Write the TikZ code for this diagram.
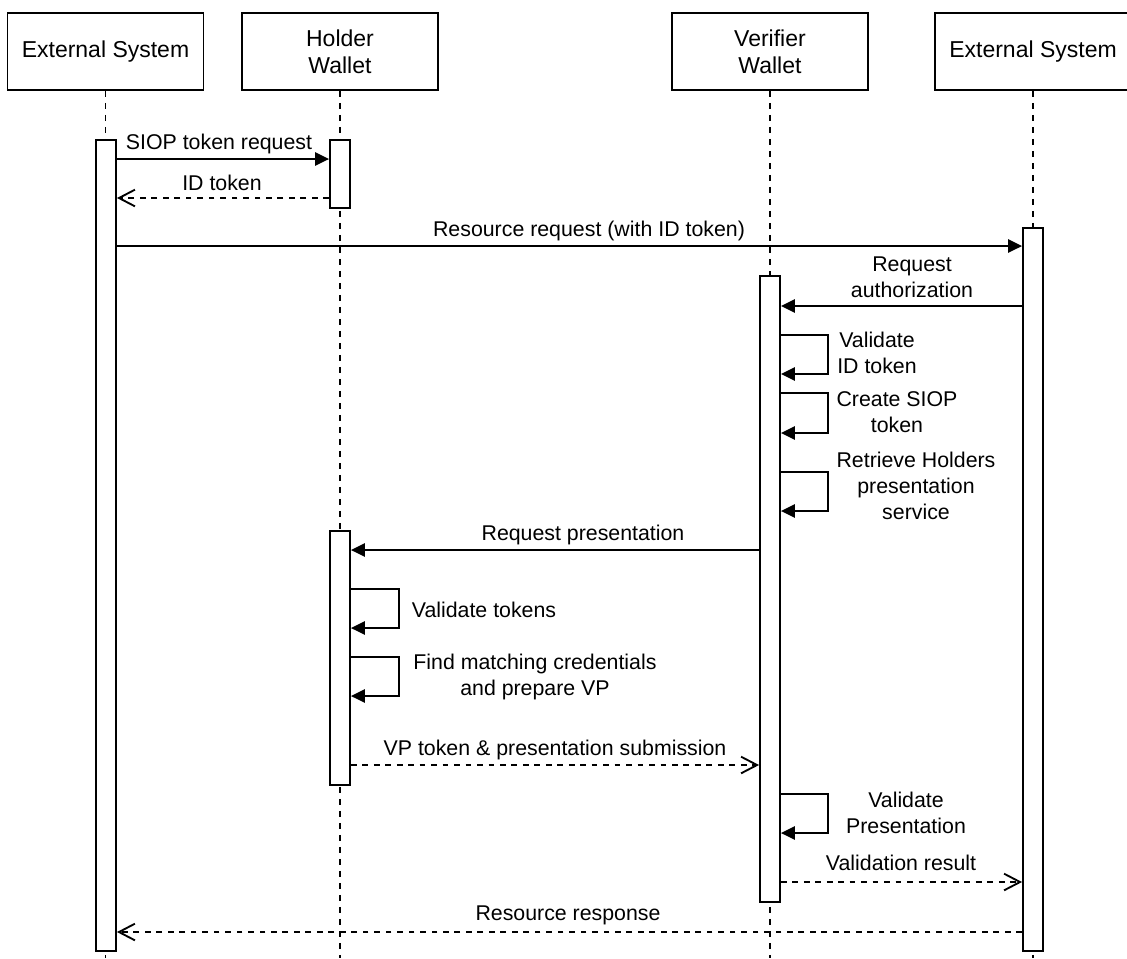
\documentclass[tikz,border=0pt]{standalone}
\usepackage{fontspec}
\setmainfont{Liberation Sans}
\usetikzlibrary{arrows.meta,fit}
\begin{document}
\begin{tikzpicture}[x=0.75pt,y=-0.75pt,
  line width=1.4pt,
  head/.style={draw, fill=white, minimum width=147pt, minimum height=57.75pt,
    inner sep=0pt, align=center, font=\fontsize{17.25}{20}\selectfont},
  life/.style={dash pattern=on 4.5pt off 4.5pt},
  bar/.style={draw, fill=white, inner sep=0pt},
  sync/.style={-{Triangle[length=10.5pt,width=10pt]}},
  reply/.style={dash pattern=on 4.3pt off 4.3pt,
    -{Straight Barb[length=12pt,width=12.5pt]}},
  lbl/.style={font=\fontsize{16}{19.2}\selectfont, align=center, inner sep=0pt, anchor=base}
]
\clip (0,0) rectangle (1127,958);

% participants
\node[head] (es1) at (105.5,51.5) {External System};
\node[head] (hw)  at (340,51.5)   {Holder\\Wallet};
\node[head] (vw)  at (770,51.5)   {Verifier\\Wallet};
\node[head] (es2) at (1033,51.5)  {External System};

% lifelines
\coordinate (bottom) at (0,958);
\draw[life] (es1.south) -- (es1.south |- bottom);
\draw[life] (hw.south)  -- (hw.south |- bottom);
\draw[life] (vw.south)  -- (vw.south |- bottom);
\draw[life] (es2.south) -- (es2.south |- bottom);

% activation bars
\node[bar, fit={(96,140) (116,951)}]   (es1bar) {};
\node[bar, fit={(330,140) (350,208)}]  (hbarA) {};
\node[bar, fit={(1023,228) (1043,951)}] (es2bar) {};
\node[bar, fit={(760,276) (780,902)}]  (vbar) {};
\node[bar, fit={(330,531) (350,785)}]  (hbarB) {};

% SIOP exchange
\draw[sync]  (es1bar.east |- 0,159) -- (hbarA.west |- 0,159);
\node[lbl] (t1) at (219,149) {SIOP token request};
\draw[reply] (hbarA.west |- 0,198) -- (es1bar.east |- 0,198);
\node[lbl] (t2) at (222,190) {ID token};

\draw[sync]  (es1bar.east |- 0,246) -- (es2bar.west |- 0,246);
\node[lbl] (t3) at (589,236) {Resource request (with ID token)};

\draw[sync]  (es2bar.west |- 0,306) -- (vbar.east |- 0,306);
\node[lbl] (t4) at (912,297) {Request\\authorization};

% verifier self calls
\draw[sync] (vbar.east |- 0,335) -| (828,374) -- (vbar.east |- 0,374);
\node[lbl] (t5) at (877,373) {Validate\\ID token};
\draw[sync] (vbar.east |- 0,393) -| (828,433) -- (vbar.east |- 0,433);
\node[lbl] (t6) at (897,432) {Create SIOP\\token};
\draw[sync] (vbar.east |- 0,472) -| (828,511) -- (vbar.east |- 0,511);
\node[lbl] (t7) at (916,519) {Retrieve Holders\\presentation\\service};

% presentation request
\draw[sync] (vbar.west |- 0,550) -- (hbarB.east |- 0,550);
\node[lbl] (t8) at (583,540) {Request presentation};

\draw[sync] (hbarB.east |- 0,589) -| (399,628) -- (hbarB.east |- 0,628);
\node[lbl] (t9) at (484,617) {Validate tokens};
\draw[sync] (hbarB.east |- 0,657) -| (399,696) -- (hbarB.east |- 0,696);
\node[lbl] (t10) at (535,695) {Find matching credentials\\and prepare VP};

\draw[reply] (hbarB.east |- 0,765) -- (vbar.west |- 0,765);
\node[lbl] (t11) at (555,755) {VP token \& presentation submission};

\draw[sync] (vbar.east |- 0,794) -| (828,833) -- (vbar.east |- 0,833);
\node[lbl] (t12) at (906,833) {Validate\\Presentation};

\draw[reply] (vbar.east |- 0,882) -- (es2bar.west |- 0,882);
\node[lbl] (t13) at (901,870) {Validation result};

\draw[reply] (es2bar.west |- 0,932) -- (es1bar.east |- 0,932);
\node[lbl] (t14) at (568,920) {Resource response};
\end{tikzpicture}
\end{document}
